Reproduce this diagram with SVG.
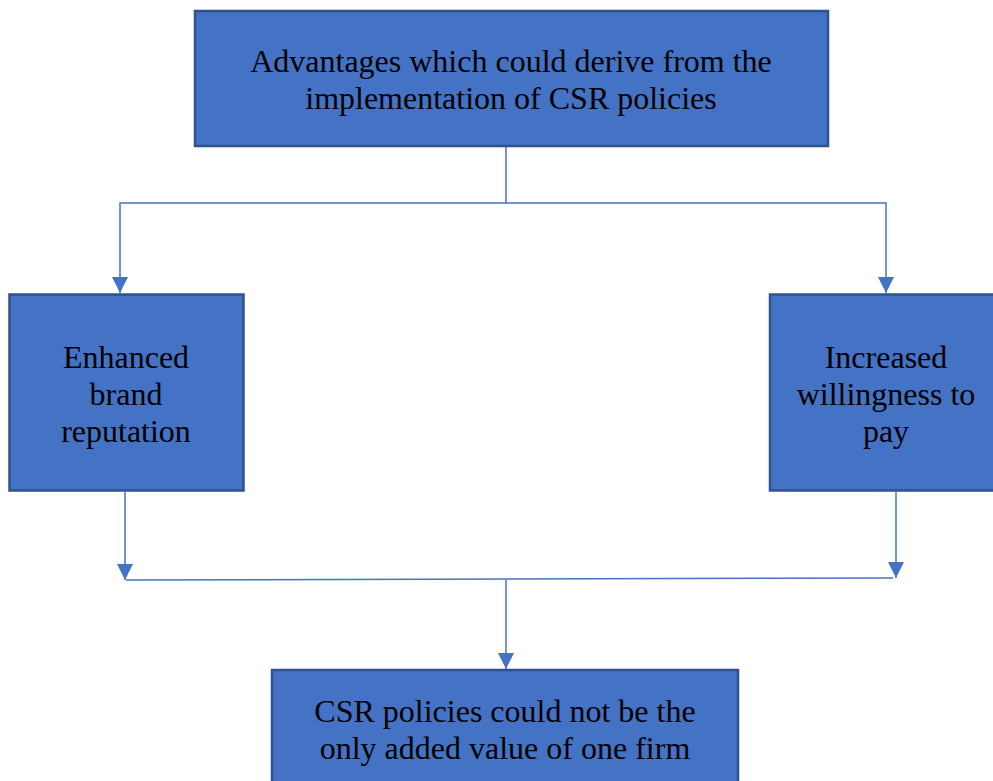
<svg xmlns="http://www.w3.org/2000/svg" width="993" height="781" viewBox="0 0 993 781">
<style>
.box{fill:#4472C4;stroke:#2F528F;stroke-width:2.5}
.t{font-family:"Liberation Serif","Times New Roman",serif;font-size:32px;fill:#000;text-anchor:middle}
.c{fill:none;stroke:#4472C4;stroke-width:1.5}
</style>
<defs>
<marker id="ah" markerWidth="16" markerHeight="16" viewBox="0 0 16 16" refX="16" refY="8" orient="auto" markerUnits="userSpaceOnUse">
<path d="M0,0 L16,8 L0,16 Z" fill="#4472C4"/>
</marker>
</defs>
<rect width="993" height="781" fill="#fff"/>
<g id="connectors">
<polyline class="c" points="506,146 506,203 120,203 120,293" marker-end="url(#ah)"/>
<polyline class="c" points="506,203 886,203 886,293" marker-end="url(#ah)"/>
<line class="c" x1="125" y1="492" x2="125" y2="580" marker-end="url(#ah)"/>
<line class="c" x1="896" y1="492" x2="896" y2="578" marker-end="url(#ah)"/>
<line class="c" x1="126" y1="580" x2="893" y2="578"/>
<line class="c" x1="506" y1="580" x2="506" y2="669" marker-end="url(#ah)"/>
</g>
<g id="top">
<rect class="box" x="195" y="11" width="633" height="135"/>
<text class="t" x="511" y="72">Advantages which could derive from the</text>
<text class="t" x="511" y="109">implementation of CSR policies</text>
</g>
<g id="left">
<rect class="box" x="9.5" y="294.5" width="234" height="196"/>
<text class="t" x="126" y="368">Enhanced</text>
<text class="t" x="126" y="405">brand</text>
<text class="t" x="126" y="442">reputation</text>
</g>
<g id="right">
<rect class="box" x="770" y="294.5" width="233" height="196"/>
<text class="t" x="886" y="368">Increased</text>
<text class="t" x="886" y="405">willingness to</text>
<text class="t" x="886" y="442">pay</text>
</g>
<g id="bottom">
<rect class="box" x="272" y="670" width="466" height="120"/>
<text class="t" x="505" y="722">CSR policies could not be the</text>
<text class="t" x="505" y="759">only added value of one firm</text>
</g>
</svg>
